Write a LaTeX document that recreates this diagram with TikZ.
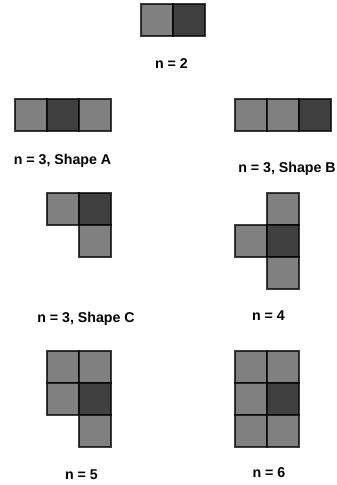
\documentclass[tikz,border=0pt]{standalone}
\usepackage{fontspec}
\setmainfont{Liberation Sans}
\begin{document}
\begin{tikzpicture}[x=1pt,y=-1pt,
  med/.style={fill={rgb,255:red,128;green,128;blue,128},draw=black,draw opacity=0.75,line width=1.6pt},
  drk/.style={fill={rgb,255:red,64;green,64;blue,64},draw=black,draw opacity=0.75,line width=1.6pt},
  lbl/.style={anchor=base,inner sep=0pt,font=\fontsize{14.2}{16}\selectfont\bfseries}]
\useasboundingbox (0,0) rectangle (337,485);
% n = 2
\draw[med] (141,4) rectangle ++(32,32);
\draw[drk] (173,4) rectangle ++(32,32);
\node[lbl] (l2) at (171.5,68) {n = 2};
% n = 3, Shape A
\draw[med] (15,99) rectangle ++(32,32);
\draw[drk] (47,99) rectangle ++(32,32);
\draw[med] (79,99) rectangle ++(32,32);
\node[lbl] (lA) at (62.5,164) {n = 3, Shape A};
% n = 3, Shape B
\draw[med] (235,99) rectangle ++(32,32);
\draw[med] (267,99) rectangle ++(32,32);
\draw[drk] (299,99) rectangle ++(32,32);
\node[lbl] (lB) at (287,172) {n = 3, Shape B};
% n = 3, Shape C
\draw[med] (47,193) rectangle ++(32,32);
\draw[drk] (79,193) rectangle ++(32,32);
\draw[med] (79,225) rectangle ++(32,32);
\node[lbl] (lC) at (86,322) {n = 3, Shape C};
% n = 4
\draw[med] (267,193) rectangle ++(32,32);
\draw[med] (235,225) rectangle ++(32,32);
\draw[drk] (267,225) rectangle ++(32,32);
\draw[med] (267,257) rectangle ++(32,32);
\node[lbl] (l4) at (268.5,320) {n = 4};
% n = 5
\draw[med] (47,351) rectangle ++(32,32);
\draw[med] (79,351) rectangle ++(32,32);
\draw[med] (47,383) rectangle ++(32,32);
\draw[drk] (79,383) rectangle ++(32,32);
\draw[med] (79,415) rectangle ++(32,32);
\node[lbl] (l5) at (81.5,479) {n = 5};
% n = 6
\draw[med] (235,351) rectangle ++(32,32);
\draw[med] (267,351) rectangle ++(32,32);
\draw[med] (235,383) rectangle ++(32,32);
\draw[drk] (267,383) rectangle ++(32,32);
\draw[med] (235,415) rectangle ++(32,32);
\draw[med] (267,415) rectangle ++(32,32);
\node[lbl] (l6) at (269,477) {n = 6};
\end{tikzpicture}
\end{document}
